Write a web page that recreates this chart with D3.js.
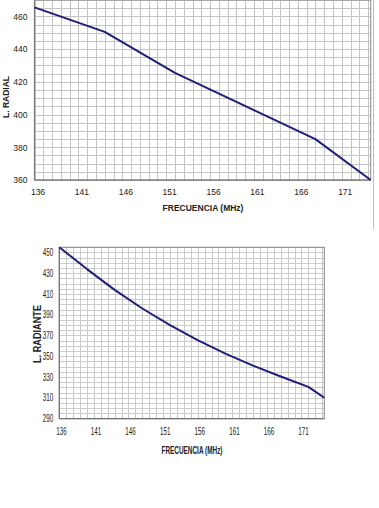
<!DOCTYPE html>
<html><head><meta charset="utf-8">
<script src="https://cdn.jsdelivr.net/npm/d3@7"></script>
<style>
html,body{margin:0;padding:0;background:#fff;}
svg{display:block;}
</style></head>
<body>
<svg id="c" width="379" height="508"></svg>
<script>
// Chart 1 data (L. RADIAL)
const freq1 = [136, 144, 152, 168, 174.3];
const radial = [465.5, 450.5, 425.5, 385, 360];
// Chart 2 data (L. RADIANTE)
const freq2 = [136, 140, 144, 148, 152, 156, 160, 164, 168, 172, 174.3];
const radiante = [455, 434, 414, 396, 380, 365.5, 352.5, 341, 330.5, 320.5, 310];
// Tick labels
const xTicks = [136, 141, 146, 151, 156, 161, 166, 171];
const yTicks1 = [360, 380, 400, 420, 440, 460];
const yTicks2 = [290, 310, 330, 350, 370, 390, 410, 430, 450];

const svg = d3.select("#c");

function squeeze(sel, len) {
  if (len) sel.attr("textLength", len).attr("lengthAdjust", "spacingAndGlyphs");
}

function drawChart(cfg) {
  const g = svg.append("g");
  const x = d3.scaleLinear().domain(cfg.xDomain).range([cfg.left, cfg.right]);
  const y = d3.scaleLinear().domain(cfg.yDomain).range([cfg.bottom, cfg.top]);

  const vx = d3.range(Math.ceil(cfg.xDomain[0]), Math.floor(cfg.xDomain[1]) + 1, 1);
  g.append("g").selectAll("line").data(vx).join("line")
    .attr("x1", d => Math.round(x(d)) + 0.5).attr("x2", d => Math.round(x(d)) + 0.5)
    .attr("y1", cfg.top).attr("y2", cfg.bottom)
    .attr("stroke", cfg.grid).attr("stroke-width", 1);
  const hy = d3.range(cfg.yDomain[0], cfg.yDomain[1] + 0.01, 5);
  g.append("g").selectAll("line").data(hy).join("line")
    .attr("y1", d => Math.round(y(d)) + 0.5).attr("y2", d => Math.round(y(d)) + 0.5)
    .attr("x1", cfg.left).attr("x2", cfg.right)
    .attr("stroke", cfg.grid).attr("stroke-width", 1);

  g.append("rect").attr("x", cfg.left).attr("y", cfg.top)
    .attr("width", cfg.right - cfg.left).attr("height", cfg.bottom - cfg.top)
    .attr("fill", "none").attr("stroke", "#8a8a8a").attr("stroke-width", 1);
  g.append("line").attr("x1", cfg.left).attr("x2", cfg.right)
    .attr("y1", cfg.bottom).attr("y2", cfg.bottom).attr("stroke", "#777").attr("stroke-width", 1.2);
  g.append("line").attr("x1", cfg.left).attr("x2", cfg.left)
    .attr("y1", cfg.top).attr("y2", cfg.bottom).attr("stroke", "#777").attr("stroke-width", 1.2);

  const data = cfg.xs.map((v, i) => [v, cfg.ys[i]]);
  g.append("path").datum(data)
    .attr("d", d3.line().x(d => x(d[0])).y(d => y(d[1])))
    .attr("fill", "none").attr("stroke", "#1f1f7a").attr("stroke-width", 2)
    .attr("stroke-linejoin", "round");

  const xAxis = d3.axisBottom(x).tickValues(xTicks).tickSize(0).tickPadding(cfg.xPad).tickFormat(d3.format("d"));
  const xa = g.append("g").attr("transform", `translate(${cfg.xLabelDx},${cfg.bottom})`).call(xAxis);
  xa.select(".domain").remove();
  xa.selectAll("text").attr("font-family", cfg.font).attr("font-size", cfg.fs).attr("fill", "#222")
    .call(squeeze, cfg.numLen);

  const yAxis = d3.axisLeft(y).tickValues(cfg.yTicks).tickSize(0).tickPadding(cfg.yPad).tickFormat(d3.format("d"));
  const ya = g.append("g").attr("transform", `translate(${cfg.left},0)`).call(yAxis);
  ya.select(".domain").remove();
  ya.selectAll("text").attr("font-family", cfg.font).attr("font-size", cfg.fs).attr("fill", "#222")
    .call(squeeze, cfg.numLen);

  g.append("text").attr("x", cfg.xTitleX).attr("y", cfg.xTitleY)
    .attr("text-anchor", "middle").attr("font-family", cfg.font).attr("font-weight", "bold")
    .attr("font-size", cfg.tfs).attr("fill", "#222")
    .text("FRECUENCIA (MHz)").call(squeeze, cfg.xTitleLen);
  g.append("text").attr("transform", `translate(${cfg.yTitleX},${cfg.yTitleY}) rotate(-90)`)
    .attr("text-anchor", "middle").attr("font-family", cfg.font).attr("font-weight", "bold")
    .attr("font-size", cfg.tfs).attr("fill", "#222")
    .text(cfg.yTitle).call(squeeze, cfg.yTitleLen);
}

drawChart({
  xDomain: [136, 174.3], yDomain: [360, 470],
  left: 34.5, right: 370.7, top: 0, bottom: 180, grid: "#c4c4c4",
  xs: freq1, ys: radial, yTicks: yTicks1,
  font: "'Liberation Sans', Arial, sans-serif", fs: 8.5, tfs: 8.5,
  xPad: 9, yPad: 7, xLabelDx: 3,
  xTitleX: 203, xTitleY: 210.5, yTitle: "L. RADIAL", yTitleX: 9, yTitleY: 97
});

drawChart({
  xDomain: [136, 174.3], yDomain: [290, 455],
  left: 59.3, right: 324.3, top: 247.3, bottom: 418.5, grid: "#cbcbcb",
  xs: freq2, ys: radiante, yTicks: yTicks2,
  font: "'Liberation Sans', Arial, sans-serif", fs: 10, tfs: 10,
  numLen: 10.5, xTitleLen: 61, yTitleLen: 58,
  xPad: 9.5, yPad: 6, xLabelDx: 1.6,
  xTitleX: 192, xTitleY: 453.5, yTitle: "L. RADIANTE", yTitleX: 40.5, yTitleY: 334
});

svg.append("line").attr("x1", 373.5).attr("x2", 373.5).attr("y1", 0).attr("y2", 229)
  .attr("stroke", "#bdbdbd").attr("stroke-width", 1);
</script>
</body></html>
